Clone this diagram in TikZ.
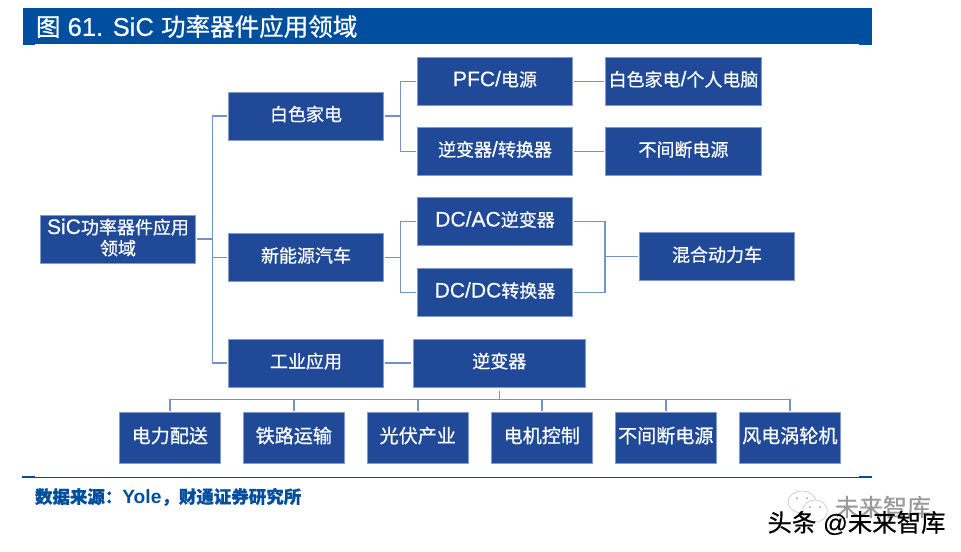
\documentclass[tikz,border=0pt]{standalone}
\usepackage{fontspec}
\setmainfont[FakeBold=0.3]{Liberation Sans}
\newfontfamily\latinbig[Scale=1.17,FakeBold=0.3]{Liberation Sans}
\newfontfamily\latinmid[Scale=1.1]{Liberation Sans}
\newfontfamily\cjk[FakeBold=0.6]{Noto Sans CJK SC}
\definecolor{headblue}{HTML}{004F9F}
\definecolor{boxblue}{HTML}{204A98}
\definecolor{edgeblue}{HTML}{7F9CD2}
\definecolor{linkblue}{HTML}{7391CA}
\definecolor{ghostgrey}{HTML}{9A9A9A}
\newcommand{\Z}[1]{{\cjk #1}}
\newcommand{\ZT}[1]{{\fontsize{18.4pt}{20pt}\selectfont\cjk #1}}
\tikzset{
  boxbase/.style={draw=edgeblue,fill=boxblue,line width=0.6pt,inner sep=0pt,outer sep=1.2pt,text=white,
    font=\fontsize{13.5pt}{15.75pt}\selectfont\latinbig,align=center,text height=11pt,text depth=3.5pt},
  boxA/.style={boxbase,minimum width=116.6pt,minimum height=36pt},
  rootbox/.style={boxA,text height=,text depth=},
  boxB/.style={boxbase,minimum width=129.6pt,minimum height=36pt},
  boxC/.style={boxbase,minimum width=75.6pt,minimum height=38.2pt,font=\fontsize{14.3pt}{16pt}\selectfont\latinbig},
  link/.style={draw=linkblue,line width=1.05pt},
  plain/.style={inner sep=0pt,outer sep=0pt},
  titletext/.style={plain,anchor=west,text=white,font=\fontsize{19.2pt}{20pt}\selectfont},
  sourcetext/.style={plain,anchor=west,text=headblue,font=\fontsize{13.1pt}{15pt}\selectfont\bfseries},
  marktext/.style={plain,text=black,font=\fontsize{18.3pt}{20pt}\selectfont},
  ghosttext/.style={plain,text=ghostgrey,font=\fontsize{18pt}{20pt}\selectfont},
  iconline/.style={draw=ghostgrey!70,line width=0.35pt,fill=white}
}
\begin{document}
\begin{tikzpicture}[x=0.75pt,y=-0.75pt]
\useasboundingbox (0,0) rectangle (961,551);
\fill[white] (0,0) rectangle (961,551);
% header band and rule
\fill[headblue] (23,8) rectangle (872,44);
\fill[headblue] (23,44) rectangle (35,44.8);
\fill[headblue] (859,44) rectangle (872,44.8);
\node[titletext] (title) at (36,26.5) {\ZT{图} 61. SiC \ZT{功率器件应用领域}};
\fill[headblue] (22,477) rectangle (872,478);
\fill[headblue] (22,476) rectangle (35,478);
\fill[headblue] (859,476) rectangle (872,478);
\node[sourcetext] (source) at (35,497) {\cjk 数据来源：{\latinmid\bfseries Yole}，财通证券研究所};
% boxes
\node[rootbox] (root) at (118,239) {SiC\Z{功率器件应用}\\\Z{领域}\rule[-3.2pt]{0pt}{1pt}};
\node[boxA] (wb) at (306,116) {\Z{白色家电}};
\node[boxA] (nev) at (306,257.3) {\Z{新能源汽车}};
\node[boxA] (ind) at (306,363) {\Z{工业应用}};
\node[boxA] (pfc) at (495,81.2) {PFC/\Z{电源}};
\node[boxA] (inv) at (495,151.3) {\Z{逆变器}/\Z{转换器}};
\node[boxA] (dcac) at (495,221.5) {DC/AC\Z{逆变器}};
\node[boxA] (dcdc) at (495,292.5) {DC/DC\Z{转换器}};
\node[boxA] (pc) at (683.5,81.2) {\Z{白色家电}/\Z{个人电脑}};
\node[boxA] (ups) at (683.5,151.3) {\Z{不间断电源}};
\node[boxA] (hev) at (717,256.5) {\Z{混合动力车}};
\node[boxB] (invb) at (499.3,363) {\Z{逆变器}};
\node[boxC] (b1) at (169.8,437.8) {\Z{电力配送}};
\node[boxC] (b2) at (293.8,437.8) {\Z{铁路运输}};
\node[boxC] (b3) at (417.8,437.8) {\Z{光伏产业}};
\node[boxC] (b4) at (541.8,437.8) {\Z{电机控制}};
\node[boxC] (b5) at (665.8,437.8) {\Z{不间断电源}};
\node[boxC] (b6) at (789.8,437.8) {\Z{风电涡轮机}};
% junction coordinates
\coordinate (jroot) at (212.5,239);
\coordinate (jwb) at (400.5,116);
\coordinate (jhev) at (605,256.5);
\coordinate (jbus) at (499.3,399.5);
% root tree
\draw[link] (root.east) -- (jroot);
\draw[link] (wb.west) -| (jroot) |- (ind.west);
\draw[link] (jroot |- nev.west) -- (nev.west);
% white goods
\draw[link] (wb.east) -- (jwb);
\draw[link] (pfc.west) -| (jwb) |- (inv.west);
\draw[link] (pfc.east) -- (pc.west);
\draw[link] (inv.east) -- (ups.west);
% new energy
\draw[link] (nev.east) -- (jwb |- nev.east);
\draw[link] (dcac.west) -| (jwb |- nev.east) |- (dcdc.west);
\draw[link] (dcac.east) -| (jhev) |- (dcdc.east);
\draw[link] (jhev) -- (hev.west);
% industry
\draw[link] (ind.east) -- (invb.west);
\draw[link,shorten <=1.5pt] (invb.south) -- (jbus);
\draw[link] (b1.north) |- (jbus);
\draw[link] (b6.north) |- (jbus);
\draw[link] (b2.north) -- (b2.north |- jbus);
\draw[link] (b3.north) -- (b3.north |- jbus);
\draw[link] (b4.north) -- (b4.north |- jbus);
\draw[link] (b5.north) -- (b5.north |- jbus);
% watermark
\draw[iconline] (802,502) ellipse (14 and 11);
\draw[iconline] (815,511) ellipse (12.5 and 11);
\fill[ghostgrey] (797,498) circle (1) (807,498) circle (1) (810,507) circle (1) (820,507) circle (1);
\node[ghosttext] (ghost) at (883,507) {\Z{未来智库}};
\node[marktext] (mark) at (856.5,523) {\Z{头条} @\Z{未来智库}};
\end{tikzpicture}
\end{document}
